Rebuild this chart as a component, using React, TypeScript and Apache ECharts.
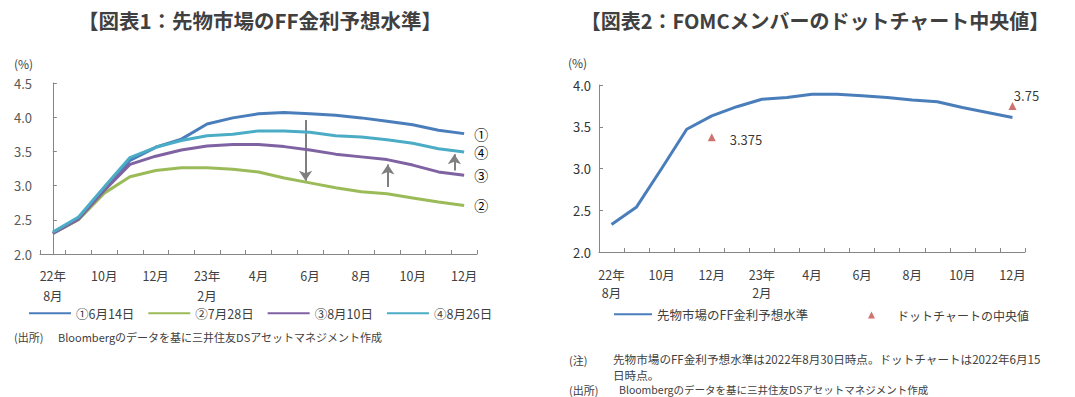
import React, { useEffect, useRef } from "react";
import * as echarts from "echarts";

const categories = [
  "22年\n8月", "9月", "10月", "11月", "12月", "1月", "23年\n2月", "3月", "4月",
  "5月", "6月", "7月", "8月", "9月", "10月", "11月", "12月",
];

const seriesNames = ["①6月14日", "②7月28日", "③8月10日", "④8月26日"];
const endMarks = ["①", "②", "③", "④"];
const jun14 = [2.30, 2.51, 2.93, 3.37, 3.56, 3.68, 3.90, 3.99, 4.05, 4.07, 4.05, 4.03, 3.99, 3.94, 3.89, 3.81, 3.76];
const jul28 = [2.30, 2.50, 2.89, 3.13, 3.22, 3.26, 3.26, 3.24, 3.20, 3.11, 3.04, 2.97, 2.91, 2.88, 2.82, 2.76, 2.71];
const aug10 = [2.30, 2.51, 2.93, 3.31, 3.43, 3.52, 3.58, 3.60, 3.60, 3.57, 3.52, 3.46, 3.42, 3.38, 3.30, 3.20, 3.15];
const aug26 = [2.32, 2.54, 2.98, 3.41, 3.56, 3.66, 3.73, 3.75, 3.80, 3.80, 3.78, 3.73, 3.71, 3.67, 3.62, 3.54, 3.49];

// arrows: [category position, from value, to value]
const arrows = [
  [9.83, 3.96, 3.07],
  [13.03, 2.98, 3.31],
  [15.62, 3.22, 3.46],
];

const ffName = "先物市場のFF金利予想水準";
const dotName = "ドットチャートの中央値";
const ff0830 = [2.33, 2.54, 3.00, 3.47, 3.63, 3.74, 3.83, 3.85, 3.89, 3.89, 3.87, 3.85, 3.82, 3.80, 3.73, 3.67, 3.61];
const dotMedian: (number | null)[] = [null, null, null, null, 3.375, null, null, null, null, null, null, null, null, null, null, null, 3.75];

const title1 = "【図表1：先物市場のFF金利予想水準】";
const title2 = "【図表2：FOMCメンバーのドットチャート中央値】";
const unitLabel = "(%)";
const srcLabel = "(出所)";
const noteLabel = "(注)";
const srcText = "Bloombergのデータを基に三井住友DSアセットマネジメント作成";
const noteLine1 = "先物市場のFF金利予想水準は2022年8月30日時点。ドットチャートは2022年6月15";
const noteLine2 = "日時点。";

const FONT = "'Noto Sans CJK JP', 'Noto Sans', sans-serif";
const colors = ["#4A7EBB", "#9BBB59", "#7F62A1", "#4BACC6"];
const AXIS = "#868686";

export default function App() {
  const ref = useRef<HTMLDivElement>(null);
  useEffect(() => {
    if (!ref.current) return;
    const chart = echarts.init(ref.current, null, { renderer: "svg" });
    const leftData = [jun14, jul28, aug10, aug26];

    const catAxis = (gridIndex: number, lineHeight: number, margin: number) => ({
      type: "category",
      gridIndex,
      data: categories,
      boundaryGap: true,
      axisLine: { lineStyle: { color: AXIS, width: 1 } },
      axisTick: { show: true, inside: true, length: 4, interval: 0, lineStyle: { color: AXIS } },
      axisLabel: {
        interval: 1,
        color: "#404040",
        fontSize: 12.5,
        fontFamily: FONT,
        lineHeight,
        margin,
      },
      splitLine: { show: false },
    });

    const valAxis = (gridIndex: number, max: number, color: string) => ({
      type: "value",
      gridIndex,
      min: 2,
      max,
      interval: 0.5,
      axisLine: { show: true, lineStyle: { color: AXIS, width: 1 } },
      axisTick: { show: true, inside: true, length: 4, lineStyle: { color: AXIS } },
      axisLabel: {
        color,
        fontSize: 13,
        fontFamily: FONT,
        margin: 8,
        formatter: (v: number) => v.toFixed(1),
      },
      splitLine: { show: false },
    });

    const hiddenSymbol = { opacity: 0 };

    const option: any = {
      animation: false,
      backgroundColor: "#ffffff",
      textStyle: { fontFamily: FONT },
      title: [
        {
          text: title1,
          left: 255,
          top: 5,
          textAlign: "center",
          textStyle: { fontSize: 20.5, fontWeight: "bold", color: "#404040", fontFamily: FONT },
        },
        {
          text: title2,
          left: 810,
          top: 5,
          textAlign: "center",
          textStyle: { fontSize: 20, fontWeight: "bold", color: "#404040", fontFamily: FONT },
        },
      ],
      grid: [
        { left: 40, top: 83, width: 437, height: 171 },
        { left: 599, top: 85, width: 426, height: 167 },
      ],
      xAxis: [
        catAxis(0, 20, 11),
        { type: "value", gridIndex: 0, min: -0.5, max: 16.5, show: false },
        catAxis(1, 18, 13),
      ],
      yAxis: [valAxis(0, 4.5, "#595959"), valAxis(1, 4.0, "#333333")],
      legend: [
        {
          data: seriesNames.map((n) => ({ name: n, itemStyle: hiddenSymbol })),
          left: 23,
          top: 302,
          itemWidth: 42,
          itemHeight: 8,
          itemGap: 13,
          textStyle: { fontSize: 12.5, color: "#404040", fontFamily: FONT },
        },
        {
          data: [{ name: ffName, itemStyle: hiddenSymbol }],
          left: 608,
          top: 303,
          itemWidth: 38,
          itemHeight: 8,
          textStyle: { fontSize: 12.5, color: "#404040", fontFamily: FONT },
        },
        {
          data: [{ name: dotName, icon: "triangle" }],
          left: 863,
          top: 304,
          itemWidth: 7,
          itemHeight: 7,
          textStyle: { fontSize: 12, color: "#404040", fontFamily: FONT, padding: [0, 0, 0, 17] },
        },
      ],
      series: [
        ...leftData.map((d, i) => ({
          type: "line",
          name: seriesNames[i],
          xAxisIndex: 0,
          yAxisIndex: 0,
          data: d,
          symbol: "none",
          showSymbol: false,
          color: colors[i],
          lineStyle: { width: 3, color: colors[i] },
          endLabel: {
            show: true,
            formatter: endMarks[i],
            distance: 10,
            color: "#000",
            fontSize: 14,
            fontFamily: FONT,
          },
        })),
        {
          type: "lines",
          coordinateSystem: "cartesian2d",
          xAxisIndex: 1,
          yAxisIndex: 0,
          symbol: ["none", "arrow"],
          symbolSize: 10,
          lineStyle: { color: "#7F7F7F", width: 2, opacity: 1 },
          data: arrows.map((a) => ({ coords: [[a[0], a[1]], [a[0], a[2]]] })),
          silent: true,
        },
        {
          type: "line",
          name: ffName,
          xAxisIndex: 2,
          yAxisIndex: 1,
          data: ff0830,
          symbol: "none",
          showSymbol: false,
          color: colors[0],
          lineStyle: { width: 3, color: colors[0] },
        },
        {
          type: "scatter",
          name: dotName,
          xAxisIndex: 2,
          yAxisIndex: 1,
          symbol: "triangle",
          symbolSize: 8,
          color: "#C0504D",
          itemStyle: { color: "#C0504D" },
          data: dotMedian.map((v, i) =>
            v == null
              ? null
              : {
                  value: v,
                  label: {
                    show: true,
                    position: i === 4 ? "right" : "top",
                    distance: i === 4 ? 14 : 4,
                    offset: i === 4 ? [0, 2] : [14, 4],
                    color: "#000",
                    fontSize: 13,
                    fontFamily: FONT,
                  },
                }
          ),
        },
      ],
      graphic: [
        { type: "text", left: 14, top: 57, style: { text: unitLabel, fill: "#404040", font: `12px ${FONT}` } },
        { type: "text", left: 568, top: 56, style: { text: unitLabel, fill: "#404040", font: `12px ${FONT}` } },
        { type: "text", left: 14, top: 331, style: { text: srcLabel, fill: "#404040", font: `11px ${FONT}` } },
        { type: "text", left: 58, top: 331, style: { text: srcText, fill: "#404040", font: `11px ${FONT}` } },
        { type: "text", left: 569, top: 354, style: { text: noteLabel, fill: "#404040", font: `11px ${FONT}` } },
        { type: "text", left: 613, top: 353, style: { text: noteLine1, fill: "#404040", font: `11.6px ${FONT}` } },
        { type: "text", left: 613, top: 369, style: { text: noteLine2, fill: "#404040", font: `11.6px ${FONT}` } },
        { type: "text", left: 569, top: 384, style: { text: srcLabel, fill: "#404040", font: `11px ${FONT}` } },
        { type: "text", left: 619, top: 384, style: { text: srcText, fill: "#404040", font: `10.5px ${FONT}` } },
      ],
    };
    chart.setOption(option);
    return () => chart.dispose();
  }, []);
  return (
    <div
      ref={ref}
      style={{ position: "fixed", left: 0, top: 0, width: 1075, height: 397, background: "#fff" }}
    />
  );
}
